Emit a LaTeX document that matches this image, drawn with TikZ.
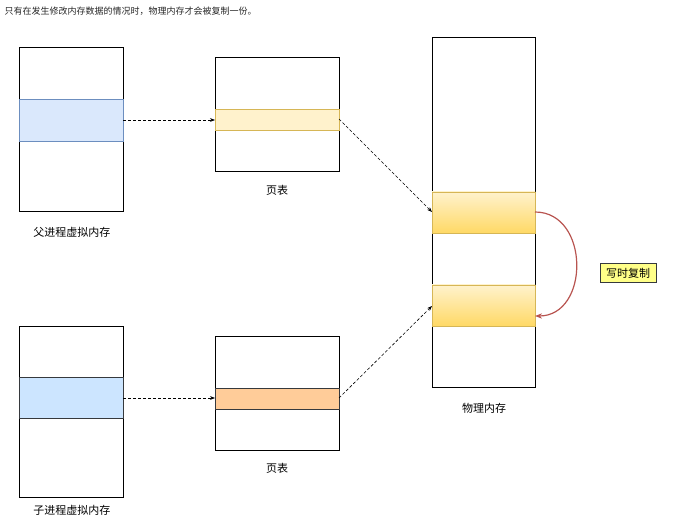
\documentclass[tikz,border=0pt]{standalone}
\usepackage{fontspec}
\setmainfont{Noto Sans CJK SC}
\usetikzlibrary{arrows.meta}
\definecolor{cowred}{RGB}{184,84,80}
\definecolor{pblue}{RGB}{218,232,252}
\definecolor{pbluel}{RGB}{108,142,191}
\definecolor{ylw}{RGB}{255,242,204}
\definecolor{ylwl}{RGB}{214,182,86}
\definecolor{ylwd}{RGB}{255,217,102}
\definecolor{cblue}{RGB}{204,229,255}
\definecolor{grl}{RGB}{54,57,61}
\definecolor{orng}{RGB}{255,204,153}
\definecolor{note}{RGB}{255,255,136}
\begin{document}
\begin{tikzpicture}[x=1pt,y=-1pt,
 box/.style={draw=black,fill=white,line width=0.8pt},
 band/.style={line width=0.6pt},
 lbl/.style={font=\fontsize{11}{13}\selectfont,text=black},
 darr/.style={densely dashed,line width=0.6pt,-{Stealth[length=5pt]}}]
\useasboundingbox (0,0) rectangle (673,524);
\node[anchor=west,font=\fontsize{9}{11}\selectfont,text=black!85] (title) at (1,11) {只有在发生修改内存数据的情况时，物理内存才会被复制一份。};
\draw[box] (19,47) rectangle (123,211);
\draw[band,fill=pblue,draw=pbluel] (19,99) rectangle (123,141);
\node[lbl] (lp) at (72,232) {父进程虚拟内存};
\draw[box] (215,57) rectangle (339,171);
\draw[band,fill=ylw,draw=ylwl] (215,109) rectangle (339,130);
\node[lbl] (lt1) at (277,190) {页表};
\draw[box] (432,37) rectangle (535,387);
\shade[top color=ylw,bottom color=ylwd] (432,192) rectangle (535,233);
\draw[band,draw=ylwl] (432,192) rectangle (535,233);
\shade[top color=ylw,bottom color=ylwd] (432,285) rectangle (535,326);
\draw[band,draw=ylwl] (432,285) rectangle (535,326);
\node[lbl] (lph) at (484,408) {物理内存};
\draw[box] (19,326) rectangle (123,497);
\draw[band,fill=cblue,draw=grl] (19,377) rectangle (123,418);
\node[lbl] (lc) at (72,510) {子进程虚拟内存};
\draw[box] (215,336) rectangle (339,450);
\draw[band,fill=orng,draw=grl] (215,388) rectangle (339,409);
\node[lbl] (lt2) at (277,468) {页表};
\draw[darr] (123,120) -- (215,120);
\draw[darr] (339,119) -- (432,212);
\draw[darr] (123,398) -- (215,398);
\draw[darr] (339,398) -- (432,306);
\draw[cowred,line width=1.2pt,-{Stealth[length=7pt]}] (535,212) .. controls (590,212) and (590,316) .. (535,316);
\node[draw=grl,fill=note,font=\fontsize{11}{13}\selectfont,inner sep=2pt,minimum width=56pt,minimum height=19pt] (cow) at (628,273) {写时复制};
\end{tikzpicture}
\end{document}
